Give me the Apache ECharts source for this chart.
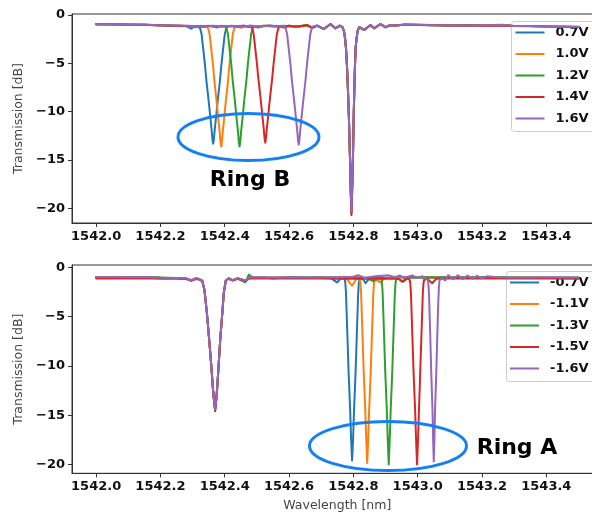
<!DOCTYPE html>
<html>
<head>
<meta charset="utf-8">
<script src="https://cdn.jsdelivr.net/npm/echarts@6/dist/echarts.min.js"></script>
<style>
  html, body { margin: 0; padding: 0; background: #fff; overflow: hidden; }
  /* the figure is a little wider than the window, so its right edge is cropped */
  #chart { width: 608px; height: 514px; }
</style>
</head>
<body>
<div id="chart"></div>
<script>
// Tick positions
const xTicks = [1542.0, 1542.2, 1542.4, 1542.6, 1542.8, 1543.0, 1543.2, 1543.4];
const yTicks = [0, -5, -10, -15, -20];

// Series names
const topNames = ['0.7V', '1.0V', '1.2V', '1.4V', '1.6V'];
const botNames = ['-0.7V', '-1.1V', '-1.3V', '-1.5V', '-1.6V'];

// Upper panel: Ring B tuned, [wavelength nm, transmission dB]
const top07 = [[1542.00,-0.95],[1542.05,-0.97],[1542.10,-1.00],[1542.15,-1.02],[1542.20,-1.07],[1542.25,-1.12],[1542.28,-1.14],[1542.296,-1.42],[1542.308,-1.16],
  [1542.320,-1.2],[1542.324,-1.45],[1542.328,-2.0],[1542.332,-3.2],[1542.338,-5.0],[1542.343,-6.8],[1542.349,-8.6],[1542.354,-10.2],[1542.359,-11.8],[1542.362,-12.9],[1542.364,-13.3],[1542.366,-12.9],[1542.369,-11.8],[1542.374,-10.2],[1542.379,-8.6],[1542.385,-6.8],[1542.390,-5.0],[1542.396,-3.2],[1542.400,-2.0],[1542.404,-1.45],[1542.408,-1.2],
  [1542.425,-1.15],[1542.45,-1.22],[1542.48,-1.12],[1542.51,-1.2],[1542.54,-1.1],[1542.57,-1.2],[1542.60,-1.12],[1542.63,-1.22],
  [1542.656,-1.03],[1542.672,-1.34],[1542.687,-1.1],[1542.708,-1.45],[1542.729,-0.93],[1542.744,-1.38],[1542.758,-1.1],
  [1542.766,-1.25],[1542.771,-1.7],[1542.774,-2.4],[1542.777,-3.4],[1542.780,-5.2],[1542.783,-7.6],[1542.786,-10.5],[1542.789,-14.2],[1542.792,-18.2],[1542.794,-20.3],[1542.796,-18.2],[1542.799,-14.2],[1542.801,-10.5],[1542.803,-7.6],[1542.805,-5.2],[1542.807,-3.4],[1542.810,-2.4],[1542.813,-1.7],[1542.818,-1.25],
  [1542.834,-1.55],[1542.853,-1.03],[1542.865,-1.38],[1542.884,-0.93],[1542.900,-1.27],[1542.915,-1.03],[1542.93,-1.1],[1542.96,-0.98],[1543.00,-1.0],[1543.05,-1.04],[1543.10,-1.08],[1543.15,-1.06],[1543.20,-1.1],[1543.262,-1.0],[1543.30,-1.14],[1543.35,-1.15],[1543.40,-1.18],[1543.45,-1.2],[1543.50,-1.22]];

const top10 = [[1542.00,-0.97],[1542.05,-0.94],[1542.10,-1.01],[1542.15,-0.99],[1542.20,-1.09],[1542.25,-1.10],[1542.29,-1.17],[1542.31,-1.28],[1542.325,-1.12],[1542.336,-1.22],
  [1542.345,-1.2],[1542.349,-1.45],[1542.353,-2.0],[1542.357,-3.2],[1542.363,-5.0],[1542.368,-6.9],[1542.374,-8.7],[1542.379,-10.4],[1542.384,-12.0],[1542.387,-13.2],[1542.389,-13.6],[1542.391,-13.2],[1542.394,-12.0],[1542.399,-10.4],[1542.404,-8.7],[1542.410,-6.9],[1542.415,-5.0],[1542.421,-3.2],[1542.425,-2.0],[1542.429,-1.45],[1542.433,-1.2],
  [1542.45,-1.32],[1542.47,-1.14],[1542.50,-1.2],[1542.53,-1.1],[1542.56,-1.2],[1542.60,-1.14],[1542.63,-1.2],
  [1542.656,-1.05],[1542.672,-1.32],[1542.687,-1.12],[1542.708,-1.43],[1542.729,-0.95],[1542.744,-1.36],[1542.758,-1.12],
  [1542.766,-1.25],[1542.771,-1.7],[1542.774,-2.4],[1542.777,-3.4],[1542.780,-5.2],[1542.783,-7.6],[1542.786,-10.5],[1542.789,-14.2],[1542.792,-18.3],[1542.794,-20.4],[1542.796,-18.3],[1542.799,-14.2],[1542.801,-10.5],[1542.803,-7.6],[1542.805,-5.2],[1542.807,-3.4],[1542.810,-2.4],[1542.813,-1.7],[1542.818,-1.26],
  [1542.834,-1.53],[1542.853,-1.05],[1542.865,-1.36],[1542.884,-0.95],[1542.900,-1.25],[1542.915,-1.05],[1542.93,-1.08],[1542.96,-1.0],[1543.00,-1.02],[1543.05,-1.06],[1543.10,-1.06],[1543.15,-1.08],[1543.20,-1.1],[1543.26,-1.05],[1543.30,-1.12],[1543.35,-1.16],[1543.40,-1.17],[1543.45,-1.21],[1543.50,-1.23]];

const top12 = [[1542.00,-0.96],[1542.05,-0.96],[1542.10,-0.99],[1542.15,-1.01],[1542.20,-1.08],[1542.25,-1.11],[1542.30,-1.15],[1542.33,-1.2],[1542.35,-1.12],[1542.376,-1.3],[1542.388,-1.12],
  [1542.402,-1.2],[1542.406,-1.45],[1542.410,-2.0],[1542.414,-3.2],[1542.420,-5.0],[1542.425,-6.9],[1542.431,-8.7],[1542.436,-10.4],[1542.441,-12.0],[1542.444,-13.2],[1542.446,-13.6],[1542.448,-13.2],[1542.451,-12.0],[1542.456,-10.4],[1542.461,-8.7],[1542.467,-6.9],[1542.472,-5.0],[1542.478,-3.2],[1542.482,-2.0],[1542.486,-1.45],[1542.490,-1.2],
  [1542.505,-1.3],[1542.52,-1.12],[1542.55,-1.2],[1542.58,-1.12],[1542.61,-1.2],[1542.635,-1.15],
  [1542.656,-1.04],[1542.672,-1.35],[1542.687,-1.09],[1542.708,-1.46],[1542.729,-0.94],[1542.744,-1.39],[1542.758,-1.1],
  [1542.766,-1.25],[1542.771,-1.7],[1542.774,-2.4],[1542.777,-3.4],[1542.780,-5.2],[1542.783,-7.6],[1542.786,-10.5],[1542.789,-14.2],[1542.792,-18.4],[1542.794,-20.5],[1542.796,-18.4],[1542.799,-14.2],[1542.801,-10.5],[1542.803,-7.6],[1542.805,-5.2],[1542.807,-3.4],[1542.810,-2.4],[1542.813,-1.7],[1542.818,-1.25],
  [1542.834,-1.56],[1542.853,-1.04],[1542.865,-1.39],[1542.884,-0.94],[1542.900,-1.28],[1542.915,-1.04],[1542.93,-1.1],[1542.96,-1.0],[1543.00,-1.04],[1543.05,-1.05],[1543.10,-1.1],[1543.15,-1.07],[1543.20,-1.12],[1543.26,-1.06],[1543.30,-1.13],[1543.35,-1.14],[1543.40,-1.19],[1543.45,-1.2],[1543.50,-1.24]];

const top14 = [[1542.00,-0.95],[1542.05,-0.98],[1542.10,-1.0],[1542.15,-1.03],[1542.20,-1.06],[1542.25,-1.13],[1542.30,-1.16],[1542.33,-1.22],[1542.36,-1.12],[1542.39,-1.2],[1542.42,-1.13],[1542.44,-1.2],[1542.46,-1.1],[1542.473,-1.25],
  [1542.482,-1.2],[1542.486,-1.45],[1542.490,-2.0],[1542.494,-3.2],[1542.500,-5.0],[1542.505,-6.7],[1542.511,-8.5],[1542.516,-10.1],[1542.521,-11.7],[1542.524,-12.8],[1542.526,-13.2],[1542.528,-12.8],[1542.531,-11.7],[1542.536,-10.1],[1542.541,-8.5],[1542.547,-6.7],[1542.552,-5.0],[1542.558,-3.2],[1542.562,-2.0],[1542.566,-1.45],[1542.570,-1.2],
  [1542.585,-1.3],[1542.60,-1.12],[1542.62,-1.22],[1542.64,-1.15],
  [1542.656,-1.06],[1542.672,-1.33],[1542.687,-1.11],[1542.708,-1.44],[1542.729,-0.96],[1542.744,-1.37],[1542.758,-1.13],
  [1542.766,-1.25],[1542.771,-1.7],[1542.774,-2.4],[1542.777,-3.4],[1542.780,-5.2],[1542.783,-7.6],[1542.786,-10.5],[1542.789,-14.2],[1542.792,-18.6],[1542.794,-20.7],[1542.796,-18.6],[1542.799,-14.2],[1542.801,-10.5],[1542.803,-7.6],[1542.805,-5.2],[1542.807,-3.4],[1542.810,-2.4],[1542.813,-1.7],[1542.818,-1.27],
  [1542.834,-1.54],[1542.853,-1.06],[1542.865,-1.37],[1542.884,-0.96],[1542.900,-1.26],[1542.915,-1.06],[1542.93,-1.09],[1542.96,-1.01],[1543.00,-1.03],[1543.05,-1.07],[1543.10,-1.08],[1543.15,-1.1],[1543.20,-1.11],[1543.26,-1.08],[1543.30,-1.14],[1543.35,-1.17],[1543.40,-1.2],[1543.45,-1.22],[1543.50,-1.25]];

const top16 = [[1542.00,-0.96],[1542.05,-0.97],[1542.10,-1.0],[1542.15,-1.02],[1542.20,-1.07],[1542.25,-1.1],[1542.30,-1.15],[1542.33,-1.2],[1542.36,-1.13],[1542.39,-1.18],[1542.42,-1.12],[1542.45,-1.2],[1542.48,-1.12],[1542.51,-1.18],[1542.54,-1.12],[1542.565,-1.2],[1542.578,-1.15],
  [1542.586,-1.2],[1542.590,-1.45],[1542.594,-2.0],[1542.598,-3.2],[1542.604,-5.0],[1542.609,-6.8],[1542.615,-8.6],[1542.620,-10.2],[1542.625,-11.8],[1542.628,-13.0],[1542.630,-13.4],[1542.632,-13.0],[1542.635,-11.8],[1542.640,-10.2],[1542.645,-8.6],[1542.651,-6.8],[1542.656,-5.0],[1542.662,-3.2],[1542.666,-2.0],[1542.670,-1.45],[1542.674,-1.2],
  [1542.687,-1.1],[1542.708,-1.45],[1542.729,-0.93],[1542.744,-1.38],[1542.758,-1.1],
  [1542.766,-1.25],[1542.771,-1.7],[1542.774,-2.4],[1542.777,-3.4],[1542.780,-5.2],[1542.783,-7.6],[1542.786,-10.5],[1542.789,-14.2],[1542.792,-18.2],[1542.794,-20.3],[1542.796,-18.2],[1542.799,-14.2],[1542.801,-10.5],[1542.803,-7.6],[1542.805,-5.2],[1542.807,-3.4],[1542.810,-2.4],[1542.813,-1.7],[1542.818,-1.25],
  [1542.834,-1.55],[1542.853,-1.03],[1542.865,-1.38],[1542.884,-0.93],[1542.900,-1.27],[1542.915,-1.03],[1542.93,-1.1],[1542.96,-0.99],[1543.00,-1.01],[1543.05,-1.05],[1543.10,-1.07],[1543.15,-1.08],[1543.20,-1.1],[1543.26,-1.04],[1543.30,-1.13],[1543.35,-1.15],[1543.40,-1.18],[1543.45,-1.21],[1543.50,-1.23]];

// Lower panel: Ring A tuned, [wavelength nm, transmission dB]
const bot07 = [[1542.00,-0.97],[1542.05,-0.98],[1542.10,-1.0],[1542.15,-0.97],[1542.20,-1.04],[1542.25,-1.07],[1542.28,-1.12],[1542.296,-1.32],[1542.31,-1.1],[1542.32,-1.18],
  [1542.330,-1.35],[1542.337,-2.3],[1542.345,-4.8],[1542.352,-7.5],[1542.358,-9.9],[1542.363,-12.2],[1542.366,-13.3],[1542.370,-14.4],[1542.374,-13.3],[1542.377,-12.0],[1542.381,-9.9],[1542.386,-7.3],[1542.392,-4.8],[1542.397,-2.6],[1542.403,-1.35],
  [1542.412,-1.1],[1542.425,-1.3],[1542.44,-1.1],[1542.464,-1.35],[1542.478,-1.0],[1542.50,-1.0],[1542.55,-1.04],[1542.60,-1.0],[1542.65,-1.03],[1542.70,-1.0],[1542.73,-1.08],[1542.749,-1.52],[1542.762,-1.08],
  [1542.773,-1.2],[1542.775,-1.6],[1542.777,-2.6],[1542.781,-6.5],[1542.785,-10.5],[1542.790,-14.5],[1542.793,-17.5],[1542.796,-19.6],[1542.799,-17.5],[1542.802,-14.5],[1542.807,-10.5],[1542.811,-6.5],[1542.815,-2.6],[1542.817,-1.6],[1542.819,-1.2],
  [1542.828,-1.1],[1542.838,-1.6],[1542.85,-1.08],[1542.87,-1.0],[1542.90,-1.05],[1542.95,-1.0],[1543.00,-1.02],[1543.05,-1.0],[1543.10,-1.03],[1543.20,-1.0],[1543.30,-1.03],[1543.40,-1.02],[1543.50,-1.05]];

const bot11 = [[1542.00,-0.98],[1542.05,-0.97],[1542.10,-1.01],[1542.15,-0.98],[1542.20,-1.05],[1542.25,-1.06],[1542.28,-1.13],[1542.296,-1.3],[1542.31,-1.11],[1542.32,-1.2],
  [1542.330,-1.35],[1542.337,-2.3],[1542.345,-4.8],[1542.352,-7.5],[1542.358,-9.9],[1542.363,-12.2],[1542.366,-13.3],[1542.370,-14.45],[1542.374,-13.3],[1542.377,-12.0],[1542.381,-9.9],[1542.386,-7.3],[1542.392,-4.8],[1542.397,-2.6],[1542.403,-1.35],
  [1542.412,-1.1],[1542.425,-1.28],[1542.44,-1.1],[1542.464,-1.33],[1542.478,-1.02],[1542.50,-1.02],[1542.55,-1.03],[1542.60,-1.01],[1542.65,-1.04],[1542.70,-1.02],[1542.75,-1.05],[1542.78,-1.2],[1542.796,-1.85],[1542.81,-1.15],
  [1542.820,-1.2],[1542.822,-1.6],[1542.824,-2.6],[1542.828,-6.5],[1542.832,-10.5],[1542.837,-14.5],[1542.840,-17.5],[1542.843,-19.85],[1542.846,-17.5],[1542.849,-14.5],[1542.854,-10.5],[1542.858,-6.5],[1542.862,-2.6],[1542.864,-1.6],[1542.866,-1.2],
  [1542.872,-1.1],[1542.884,-1.5],[1542.90,-1.05],[1542.95,-1.02],[1543.00,-1.0],[1543.05,-1.03],[1543.10,-1.01],[1543.20,-1.03],[1543.30,-1.01],[1543.40,-1.03],[1543.50,-1.04]];

const bot13 = [[1542.00,-0.96],[1542.05,-0.99],[1542.10,-0.99],[1542.15,-0.96],[1542.20,-1.03],[1542.25,-1.08],[1542.28,-1.1],[1542.296,-1.33],[1542.31,-1.12],[1542.32,-1.17],
  [1542.330,-1.35],[1542.337,-2.3],[1542.345,-4.8],[1542.352,-7.5],[1542.358,-9.9],[1542.363,-12.2],[1542.366,-13.3],[1542.370,-14.5],[1542.374,-13.3],[1542.377,-12.0],[1542.381,-9.9],[1542.386,-7.3],[1542.392,-4.8],[1542.397,-2.6],[1542.403,-1.35],
  [1542.412,-1.12],[1542.425,-1.3],[1542.44,-1.12],[1542.464,-1.5],[1542.475,-0.72],[1542.488,-1.05],[1542.52,-1.03],[1542.55,-1.12],[1542.60,-1.0],[1542.65,-1.05],[1542.70,-1.0],[1542.75,-1.03],[1542.80,-1.0],[1542.84,-1.05],[1542.863,-1.4],[1542.877,-1.05],
  [1542.887,-1.2],[1542.889,-1.6],[1542.891,-2.6],[1542.895,-6.5],[1542.899,-10.5],[1542.904,-14.5],[1542.907,-17.5],[1542.910,-20.0],[1542.913,-17.5],[1542.916,-14.5],[1542.921,-10.5],[1542.925,-6.5],[1542.929,-2.6],[1542.931,-1.6],[1542.933,-1.2],
  [1542.94,-1.08],[1542.951,-1.45],[1542.965,-1.05],[1543.00,-1.0],[1543.05,-1.02],[1543.10,-1.0],[1543.20,-1.02],[1543.30,-1.0],[1543.40,-1.02],[1543.50,-1.03]];

const bot15 = [[1542.00,-1.12],[1542.05,-1.1],[1542.10,-1.13],[1542.15,-1.1],[1542.20,-1.14],[1542.25,-1.15],[1542.28,-1.18],[1542.296,-1.35],[1542.31,-1.18],[1542.32,-1.22],
  [1542.330,-1.38],[1542.337,-2.3],[1542.345,-4.8],[1542.352,-7.5],[1542.358,-9.9],[1542.363,-12.2],[1542.366,-13.3],[1542.370,-14.6],[1542.374,-13.3],[1542.377,-12.0],[1542.381,-9.9],[1542.386,-7.3],[1542.392,-4.8],[1542.397,-2.6],[1542.403,-1.38],
  [1542.412,-1.15],[1542.425,-1.32],[1542.44,-1.15],[1542.464,-1.38],[1542.478,-1.12],[1542.50,-1.12],[1542.55,-1.13],[1542.60,-1.11],[1542.65,-1.13],[1542.70,-1.12],[1542.75,-1.14],[1542.80,-1.12],[1542.85,-1.14],[1542.90,-1.12],[1542.94,-1.15],[1542.955,-1.45],[1542.967,-1.12],
  [1542.975,-1.25],[1542.977,-1.6],[1542.979,-2.6],[1542.983,-6.5],[1542.987,-10.5],[1542.992,-14.5],[1542.995,-17.5],[1542.998,-20.0],[1543.001,-17.5],[1543.004,-14.5],[1543.008,-10.5],[1543.012,-6.5],[1543.016,-2.6],[1543.018,-1.6],[1543.020,-1.25],
  [1543.03,-1.15],[1543.045,-1.6],[1543.058,-1.15],[1543.10,-1.12],[1543.20,-1.13],[1543.30,-1.12],[1543.40,-1.13],[1543.50,-1.14]];

const bot16 = [[1542.00,-0.97],[1542.05,-0.97],[1542.10,-1.0],[1542.15,-0.97],[1542.20,-1.04],[1542.25,-1.07],[1542.28,-1.12],[1542.296,-1.3],[1542.31,-1.1],[1542.32,-1.18],
  [1542.330,-1.35],[1542.337,-2.3],[1542.345,-4.8],[1542.352,-7.5],[1542.358,-9.9],[1542.363,-12.2],[1542.366,-13.3],[1542.370,-14.4],[1542.374,-13.3],[1542.377,-12.0],[1542.381,-9.9],[1542.386,-7.3],[1542.392,-4.8],[1542.397,-2.6],[1542.403,-1.35],
  [1542.412,-1.1],[1542.425,-1.28],[1542.44,-1.1],[1542.464,-1.32],[1542.478,-1.0],[1542.50,-1.0],[1542.55,-1.03],[1542.60,-1.0],[1542.65,-1.03],[1542.70,-1.0],[1542.75,-1.0],[1542.80,-0.95],[1542.815,-0.78],[1542.835,-1.05],[1542.87,-0.9],[1542.91,-0.8],[1542.93,-1.0],[1542.945,-0.82],[1542.96,-1.05],[1542.983,-0.8],[1543.00,-1.05],[1543.015,-0.9],[1543.025,-1.15],
  [1543.032,-1.3],[1543.034,-2.0],[1543.036,-3.5],[1543.039,-6.8],[1543.042,-10.5],[1543.046,-14.5],[1543.048,-17.5],[1543.050,-19.7],[1543.052,-17.5],[1543.054,-14.5],[1543.058,-10.5],[1543.061,-6.8],[1543.064,-3.5],[1543.066,-2.0],[1543.068,-1.3],
  [1543.075,-1.1],[1543.086,-1.3],[1543.095,-0.78],[1543.11,-1.2],[1543.125,-0.8],[1543.14,-1.2],[1543.155,-0.82],[1543.17,-1.15],[1543.185,-0.85],[1543.20,-1.1],[1543.215,-0.9],[1543.25,-1.0],[1543.30,-1.02],[1543.40,-1.0],[1543.50,-1.02]];

const palette = ['#1f77b4', '#ff7f0e', '#2ca02c', '#d62728', '#9467bd'];
const FONT = '"DejaVu Sans", sans-serif';
const AXIS_COLOR = '#333';

function makeX(gridIndex, withName) {
  return {
    type: 'value', gridIndex,
    min: 1541.925, max: 1543.575,
    name: withName ? 'Wavelength [nm]' : '',
    nameLocation: 'middle', nameGap: 26,
    nameTextStyle: { fontFamily: FONT, fontSize: 12.5, color: '#444' },
    axisLine: { show: true, onZero: false, lineStyle: { color: AXIS_COLOR, width: 1 } },
    axisTick: { show: true, inside: false, length: 4, customValues: xTicks, lineStyle: { color: AXIS_COLOR } },
    axisLabel: {
      customValues: xTicks, margin: 7,
      fontFamily: FONT, fontSize: 13, fontWeight: 'bold', color: '#111',
      formatter: v => v.toFixed(1)
    },
    splitLine: { show: false }
  };
}

function makeY(gridIndex, min, max) {
  return {
    type: 'value', gridIndex, min, max,
    name: 'Transmission [dB]',
    nameLocation: 'middle', nameGap: 44,
    nameTextStyle: { fontFamily: FONT, fontSize: 12.5, color: '#444' },
    axisLine: { show: true, lineStyle: { color: AXIS_COLOR, width: 1 } },
    axisTick: { show: true, inside: false, length: 4, customValues: yTicks, lineStyle: { color: AXIS_COLOR } },
    axisLabel: {
      customValues: yTicks, margin: 7,
      fontFamily: FONT, fontSize: 13, fontWeight: 'bold', color: '#111',
      formatter: v => (v < 0 ? '\u2212' + Math.abs(v) : String(v))
    },
    splitLine: { show: false }
  };
}

function makeLegend(names, left, top, padLeft) {
  return {
    data: names, orient: 'vertical', left, top,
    backgroundColor: 'rgba(255,255,255,0.85)',
    borderColor: '#cccccc', borderWidth: 1, borderRadius: 3,
    padding: [4, 14, 6, padLeft],
    icon: 'rect', itemWidth: 29, itemHeight: 2, itemGap: 7.5,
    textStyle: { fontFamily: FONT, fontSize: 13, fontWeight: 'bold', color: '#111', lineHeight: 14, padding: [0, 0, 0, 6] }
  };
}

function makeSeries(name, data, idx, axisIndex) {
  return {
    name, type: 'line', data,
    xAxisIndex: axisIndex, yAxisIndex: axisIndex,
    showSymbol: false, symbol: 'none',
    lineStyle: { width: 2, color: palette[idx], join: 'round', cap: 'round' },
    itemStyle: { color: palette[idx] },
    z: 2 + idx
  };
}

const topData = [top07, top10, top12, top14, top16];
const botData = [bot07, bot11, bot13, bot15, bot16];

const series = [];
topNames.forEach((n, i) => series.push(makeSeries(n, topData[i], i, 0)));
botNames.forEach((n, i) => series.push(makeSeries(n, botData[i], i, 1)));

const ringColor = '#1580f2';

const option = {
  animation: false,
  backgroundColor: '#fff',
  grid: [
    { left: 72, top: 14, width: 530.6, height: 209, show: true, borderColor: AXIS_COLOR, borderWidth: 1, backgroundColor: 'transparent' },
    { left: 72, top: 265, width: 530.6, height: 208.3, show: true, borderColor: AXIS_COLOR, borderWidth: 1, backgroundColor: 'transparent' }
  ],
  xAxis: [makeX(0, false), makeX(1, true)],
  yAxis: [makeY(0, -21.5, 0.1), makeY(1, -20.9, 0.25)],
  legend: [makeLegend(topNames, 511.5, 21.5, 4), makeLegend(botNames, 506.5, 271.5, 3.5)],
  series,
  graphic: [
    { type: 'ellipse', z: 100, shape: { cx: 248.5, cy: 137, rx: 70.5, ry: 23.5 }, style: { fill: 'none', stroke: ringColor, lineWidth: 3 } },
    { type: 'text', z: 100, style: { text: 'Ring B', x: 250, y: 180, align: 'center', verticalAlign: 'middle', textAlign: 'center', textVerticalAlign: 'middle', font: 'bold 22px "DejaVu Sans"', fill: '#000' } },
    { type: 'ellipse', z: 100, shape: { cx: 388, cy: 446, rx: 78.5, ry: 24.5 }, style: { fill: 'none', stroke: ringColor, lineWidth: 3 } },
    { type: 'text', z: 100, style: { text: 'Ring A', x: 517, y: 448, align: 'center', verticalAlign: 'middle', textAlign: 'center', textVerticalAlign: 'middle', font: 'bold 22px "DejaVu Sans"', fill: '#000' } }
  ]
};

const chart = echarts.init(document.getElementById('chart'), null, { renderer: 'canvas' });
chart.setOption(option);
</script>
</body>
</html>
